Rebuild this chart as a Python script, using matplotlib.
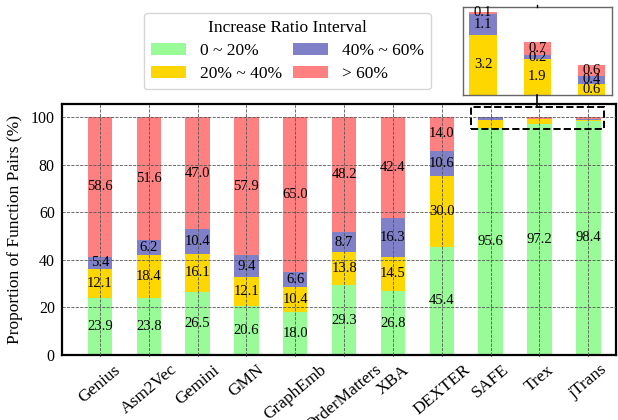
import matplotlib
matplotlib.use("Agg")
import matplotlib.pyplot as plt
from matplotlib.patches import Rectangle
from matplotlib.lines import Line2D
import numpy as np

plt.rcParams['font.family'] = ['Liberation Serif', 'DejaVu Serif']

metodos = ['Genius', 'Asm2Vec', 'Gemini', 'GMN', 'GraphEmb', 'OrderMatters',
           'XBA', 'DEXTER', 'SAFE', 'Trex', 'jTrans']
v_0_20 = [23.9, 23.8, 26.5, 20.6, 18.0, 29.3, 26.8, 45.4, 95.6, 97.2, 98.4]
v_20_40 = [12.1, 18.4, 16.1, 12.1, 10.4, 13.8, 14.5, 30.0, 3.2, 1.9, 0.6]
v_40_60 = [5.4, 6.2, 10.4, 9.4, 6.6, 8.7, 16.3, 10.6, 1.1, 0.2, 0.4]
v_60 = [58.6, 51.6, 47.0, 57.9, 65.0, 48.2, 42.4, 14.0, 0.1, 0.7, 0.6]

etiquetas = ['0 ~ 20%', '20% ~ 40%', '40% ~ 60%', '> 60%']
colores = ['#98FB98', '#FFD700', '#8080C8', '#FF8080']

series = [v_0_20, v_20_40, v_40_60, v_60]
n_zoom = 3  # los ultimos 3 metodos van en el recuadro

fig = plt.figure(figsize=(6.18, 4.2), dpi=100)
ax = fig.add_axes([0.100, 0.155, 0.897, 0.597])

x = np.arange(len(metodos))
ancho = 0.5
base = np.zeros(len(metodos))
barras = []
for i, (vals, col, et) in enumerate(zip(series, colores, etiquetas)):
    vals = np.array(vals)
    b = ax.bar(x, vals, ancho, bottom=base, color=col, label=et, zorder=2)
    barras.append(b)
    for j in range(len(metodos)):
        if j >= len(metodos) - n_zoom and i > 0:
            continue
        ax.text(x[j], base[j] + vals[j] / 2, f"{vals[j]:.1f}", ha='center', va='center',
                fontsize=10.5, zorder=4)
    base += vals

ax.set_ylim(0, 105.5)
ax.set_xlim(-0.78, 10.57)
ax.set_xticks(x)
ax.set_xticklabels(metodos, rotation=40, ha='center', fontsize=12.5)
ax.tick_params(axis='y', labelsize=11.5)
ax.tick_params(length=1, pad=4)
ax.set_ylabel('Proportion of Function Pairs (%)', fontsize=12.5, labelpad=6)
ax.grid(True, linestyle='--', color='#555555', linewidth=0.6, zorder=3)
ax.set_axisbelow(False)
for s in ax.spines.values():
    s.set_linewidth(1.6)

# recuadro punteado
rect = Rectangle((7.6, 95.0), 2.73, 9.2, fill=False, linestyle='--', linewidth=1.4,
                 edgecolor='black', zorder=5, clip_on=False)
ax.add_patch(rect)

# recuadro ampliado
axins = fig.add_axes([0.749, 0.774, 0.241, 0.209])
xi = np.arange(n_zoom)
base_i = np.zeros(n_zoom)
for vals, col in zip(series[1:], colores[1:]):
    vals = np.array(vals[-n_zoom:])
    axins.bar(xi, vals, ancho, bottom=base_i, color=col)
    for j in range(n_zoom):
        axins.text(xi[j], base_i[j] + vals[j] / 2, f"{vals[j]:.1f}", ha='center',
                   va='center', fontsize=10.5)
    base_i += vals
axins.set_xlim(-0.37, 2.37)
axins.set_ylim(0, 4.65)
axins.set_yticks([])
axins.set_xticks([])
axins.grid(False)
for s in axins.spines.values():
    s.set_color('#666666')
    s.set_linewidth(1.0)

# linea de union entre recuadros (coordenadas de figura)
xc = 537 / 618
fig.add_artist(Line2D([xc, xc], [1 - 95 / 420, 1 - 107 / 420], color='black', linewidth=1.2))
fig.add_artist(Line2D([xc, xc], [1 - 7 / 420, 1 - 5 / 420], color='black', linewidth=1.0))

fig.legend(handles=barras, labels=etiquetas, ncol=2, title='Increase Ratio Interval',
           loc='upper left', bbox_to_anchor=(144 / 618, 1 - 13 / 420), borderaxespad=0,
           fontsize=12.5, title_fontsize=12.5, columnspacing=0.65, handlelength=2.0,
           handletextpad=0.8, labelspacing=0.4)

fig.savefig('out.png', dpi=100)
